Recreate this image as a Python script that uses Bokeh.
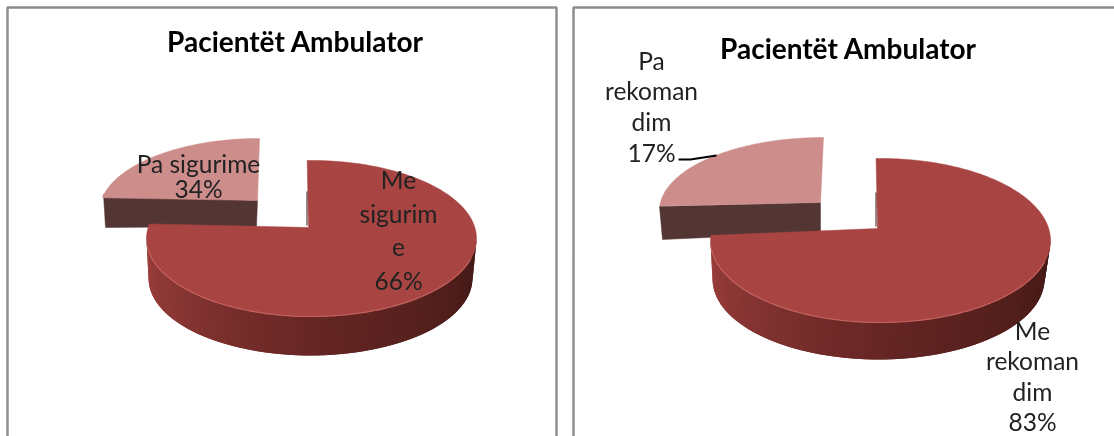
import numpy as np
from bokeh.plotting import figure
from bokeh.embed import file_html
from bokeh.resources import INLINE
from bokeh.core.properties import value

title_text = "Pacientët Ambulator"
left_pct = [66, 34]
left_share = [78, 22]      # slice shares as drawn in the picture
right_pct = [83, 17]
right_share = [76, 24]     # slice shares as drawn in the picture
left_big_lines = ["Me", "sigurim", "e"]
left_small_lines = ["Pa sigurime"]
right_big_lines = ["Me", "rekoman", "dim"]
right_small_lines = ["Pa", "rekoman", "dim"]

FACE_BIG, FACE_SMALL, FRONT_SMALL = "#a84442", "#cd8d8b", "#533534"
STOPS = [(0.0, (0x9c, 0x3f, 0x3c)), (0.5, (0x66, 0x26, 0x24)), (1.0, (0x42, 0x19, 0x16))]
FONT = "Lato"

p = figure(width=1114, height=436, x_range=(0, 1114), y_range=(436, 0),
           output_backend="svg", toolbar_location=None, min_border=0,
           x_axis_type=None, y_axis_type=None, outline_line_color=None,
           background_fill_color="white", border_fill_color="white")
p.grid.visible = False
p.styles = {"position": "fixed", "left": "0px", "top": "0px"}


def arc(cx, cy, rx, ry, t0, t1, n=120):
    t = np.radians(np.linspace(t0, t1, n))
    return cx + rx * np.cos(t), cy - ry * np.sin(t)


def shade(f):
    for (a, ca), (b, cb) in zip(STOPS, STOPS[1:]):
        if f <= b:
            k = (f - a) / (b - a)
            return "#%02x%02x%02x" % tuple(int(round(u + (v - u) * k)) for u, v in zip(ca, cb))
    return "#421916"


def pie(share, apex, top, bottom, small_apex, small_ell, small_front):
    small_sweep = share[1] * 3.6
    big_sweep = share[0] * 3.6
    sx0, sy0, srx, sry = small_ell
    # small slice front wall, then its top face
    p.patch(*zip(*small_front), fill_color=FRONT_SMALL, line_color=FRONT_SMALL, line_width=0.5)
    ax, ay = arc(sx0, sy0, srx, sry, 90, 90 + small_sweep)
    p.patch(np.r_[small_apex[0], ax], np.r_[small_apex[1], ay],
            fill_color=FACE_SMALL, line_color=FACE_SMALL, line_width=0.5)
    # main slice wall as a row of shaded strips, each overlapping the previous one
    cx, cy, rx, ry = top
    bx, by, brx, bry = bottom
    n = 70
    ts = np.radians(np.linspace(180, 360, n + 1))
    xs, ys, cols = [], [], []
    for i in range(n):
        t0, t1 = ts[i], ts[min(i + 2, n)]
        xs.append([cx + rx * np.cos(t0), cx + rx * np.cos(t1), bx + brx * np.cos(t1), bx + brx * np.cos(t0)])
        ys.append([cy - ry * np.sin(t0), cy - ry * np.sin(t1), by - bry * np.sin(t1), by - bry * np.sin(t0)])
        cols.append(shade(i / (n - 1)))
    p.patches(xs, ys, fill_color=cols, line_color=None)
    # main slice top face
    ax, ay = arc(cx, cy, rx, ry, 91.5, 90 - big_sweep, 240)
    p.patch(np.r_[apex[0], ax], np.r_[apex[1], ay],
            fill_color=FACE_BIG, line_color=FACE_BIG, line_width=0.5)
    hx, hy = arc(cx, cy, rx, ry, 185, 345)
    p.line(hx, hy, line_color="#c4625e", line_width=1.2)
    p.line([apex[0] - 1.5, apex[0] - 1.5], [apex[1] - 2, apex[1] - 36], line_color="#5c3a38", line_width=1.2)


def labels(x, ys, lines, pct):
    p.text([x] * (len(lines) + 1), ys, text=lines + [f"{pct}%"], text_align="center",
           text_baseline="middle", text_font=value(FONT), text_font_size="24.5px", text_color="#222222")


# panel frames
for x0, x1 in ((7, 556), (573, 1125)):
    p.line([x0, x0, x1, x1], [445, 7, 7, 445], line_color="#8c8c8c", line_width=2.4)

pie(left_share, (308, 227), (311, 238, 165, 78), (310, 278, 162, 77),
    (257, 200), (259, 211, 160, 73), [(103, 194), (257, 200), (256, 226), (105, 227)])
pie(right_share, (877, 228), (880, 240, 170, 82), (878, 279, 166, 80),
    (820, 202), (823, 210, 164, 73), [(659, 206), (820, 202), (820, 232), (662, 239)])

p.line([678, 690, 716], [159, 159, 155], line_color="black", line_width=2)

for x, y in ((295, 40), (848, 47)):
    p.text([x], [y], text=[title_text], text_align="center", text_baseline="middle",
           text_font=value(FONT), text_font_size="28px", text_font_style="bold", text_color="black")

labels(398, [179, 213, 246, 280], left_big_lines, left_pct[0])
labels(198, [163, 188], left_small_lines, left_pct[1])
labels(1032, [330, 360, 391, 421], right_big_lines, right_pct[0])
labels(651, [60, 90, 121, 152], right_small_lines, right_pct[1])

open("out.html", "w").write(file_html(p, INLINE))
